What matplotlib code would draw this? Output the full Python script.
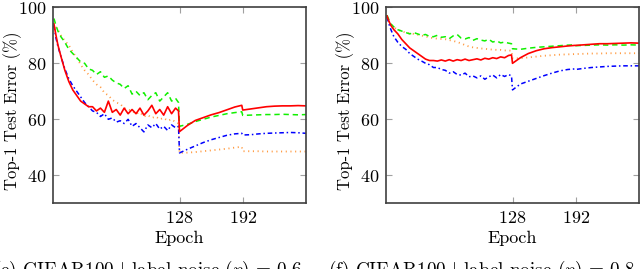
import matplotlib
matplotlib.use("Agg")
import matplotlib.pyplot as plt

plt.rcParams['font.family'] = 'serif'
plt.rcParams['font.serif'] = ['cmr10']
plt.rcParams['mathtext.fontset'] = 'cm'
plt.rcParams['axes.formatter.use_mathtext'] = True

epochs = [1, 3, 5, 8, 12, 16, 20, 24, 28, 32, 36, 40, 44, 48, 52, 56, 60, 64, 68, 72,
          76, 80, 84, 88, 92, 96, 100, 104, 108, 112, 116, 120, 124, 127,
          128, 136, 144, 152, 160, 168, 176, 184, 191, 192, 200, 208, 216, 224, 232, 240, 248, 256]

# (e) label noise 0.6
red_e = [94, 90, 86.5, 82.5, 77.5, 73.5, 70.5, 68.5, 66.5, 65.5, 64.5, 64.5, 63, 64, 62.5, 66.5, 62.5, 63.5, 61.5, 64,
         62, 63.5, 62, 64, 61.5, 63, 65, 62, 63.5, 61.5, 64.5, 62, 64, 63,
         55.6, 57.8, 59.6, 60.6, 61.6, 62.4, 63.4, 64.4, 65, 63.3, 63.7, 64.1, 64.5, 64.7, 64.8, 64.8, 64.9, 64.8]
green_e = [96, 93.5, 91.5, 89.5, 87.5, 85, 83.5, 82, 80.5, 80, 78, 77.5, 76, 77, 75, 75.5, 74, 73, 72.5, 71,
           72, 69, 70, 68.5, 69.5, 67, 68.5, 69.5, 66.5, 68, 69.5, 66.5, 67.5, 66,
           57.5, 58.2, 59.2, 60, 60.8, 61.4, 62, 62.4, 62.7, 61.4, 61.5, 61.6, 61.7, 61.7, 61.8, 61.7, 61.6, 61.7]
blue_e = [93.5, 89, 86, 82.5, 78, 74.5, 72, 70, 68, 66, 64.5, 63, 62.5, 61, 62, 60, 60.5, 59, 59.5, 58.5,
          60, 57.5, 58.5, 57, 55.5, 58, 57, 58.5, 56.5, 57.5, 56, 58, 57, 57.5,
          48, 49.3, 50.5, 51.7, 52.7, 53.5, 54.3, 54.8, 55, 54.4, 54.5, 54.8, 55, 55.1, 55.2, 55.3, 55.2, 55]
orange_e = [94.5, 93, 92, 90, 88, 86.5, 84, 82, 79.5, 77.5, 76, 74, 72.5, 71.5, 69.5, 68.5, 67, 66, 65.5, 64,
            63.5, 63, 62, 62.5, 61, 61.5, 60.5, 61, 60, 60.5, 59.5, 60, 59, 58.5,
            48, 48.1, 48.3, 48.6, 48.9, 49.2, 49.5, 49.9, 50.2, 48.6, 48.6, 48.6, 48.5, 48.5, 48.5, 48.5, 48.5, 48.5]

# (f) label noise 0.8
red_f = [96.9, 95, 93.5, 92, 90.5, 88.5, 87, 85.5, 84.5, 83.5, 82.5, 81.5, 81, 81, 80.8, 81.2, 80.8, 81.3, 80.8, 81.3,
         81, 81.5, 81, 81.3, 81.6, 81.2, 81.8, 81.5, 82, 81.7, 82.3, 82, 82.8, 83,
         80, 82, 83.5, 84.5, 85.2, 85.6, 85.9, 86.2, 86.4, 86.4, 86.6, 86.8, 87, 87, 87.1, 87.2, 87.3, 87.2]
green_f = [97.2, 95.5, 94, 93, 92, 91.5, 91, 90.5, 91, 90.5, 90, 90.3, 89.6, 89.5, 90, 89.3, 89.5, 88.8, 89.8, 90.3,
           89, 88.7, 89.2, 88.2, 88.8, 88.3, 88, 88.6, 87.6, 88, 87.3, 87.6, 87.2, 87,
           85.2, 85, 85.4, 85.7, 85.9, 86.1, 86.3, 86.5, 86.6, 86.3, 86.4, 86.5, 86.6, 86.5, 86.6, 86.5, 86.6, 86.5]
blue_f = [96.5, 94, 92, 89.5, 87.5, 86, 85, 83.5, 82.5, 81.5, 80.8, 80, 79.5, 78.5, 78.5, 77.8, 77.5, 76.5, 77, 76,
          75.8, 76.5, 75.2, 75.5, 74.8, 75.5, 74.3, 75.2, 75.8, 74.8, 76, 75.3, 76, 75.5,
          70.5, 72.6, 73.6, 74.6, 75.6, 76.5, 77.3, 77.8, 78, 77.8, 78.2, 78.5, 78.7, 78.9, 79, 79.1, 79.1, 79.1]
orange_f = [96.6, 95, 94, 92.8, 92, 91.4, 91, 90.7, 90.5, 90.2, 89.9, 89.6, 89.2, 89, 88.8, 88.7, 88.6, 88.3, 88, 87.6,
            87.1, 86.5, 86, 85.7, 85.5, 85.3, 85.2, 85, 84.9, 84.8, 84.8, 84.6, 84.6, 84.5,
            81.8, 81.8, 82.1, 82.4, 82.7, 82.9, 83.1, 83.2, 83.3, 83.3, 83.4, 83.5, 83.5, 83.6, 83.6, 83.6, 83.6, 83.6]

captions = [r"(e) CIFAR100 $|$ label noise $(\eta)$ = 0.6",
            r"(f) CIFAR100 $|$ label noise $(\eta)$ = 0.8"]

fig = plt.figure(figsize=(6.4, 2.69), dpi=100)
ax1 = fig.add_axes([53 / 640, 0.2442, 253 / 640, 0.7286])
ax2 = fig.add_axes([386 / 640, 0.2442, 253 / 640, 0.7286])

panels = [(ax1, red_e, green_e, blue_e, orange_e),
          (ax2, red_f, green_f, blue_f, orange_f)]

for ax, r, g, b, o in panels:
    ax.plot(epochs, o, color='#ff9a40', lw=1.3, linestyle=(0, (0.6, 2.0)))
    ax.plot(epochs, b, color='#0000ff', lw=1.1, linestyle=(0, (3, 1.8, 1, 1.8)))
    ax.plot(epochs, g, color='#11f000', lw=1.1, linestyle=(0, (3.5, 2.5)))
    ax.plot(epochs, r, color='#ff0000', lw=1.2)
    ax.set_xlim(0, 256)
    ax.set_ylim(30, 100)
    ax.set_xticks([128, 192])
    ax.set_yticks([40, 60, 80, 100])
    ax.tick_params(direction='in', length=4, width=0.8, color='#a0a0a0',
                   top=True, right=True, labelsize=13, pad=5)
    for s in ax.spines.values():
        s.set_color('#404040')
        s.set_linewidth(1.2)
    ax.set_xlabel('Epoch', fontsize=13, labelpad=3)
    ax.set_ylabel('Top-1 Test Error (%)', fontsize=12)
    ax.yaxis.label.set_va('center')
    ax.yaxis.set_label_coords(-0.16, 0.47)

fig.text(148 / 640, -0.025, captions[0], ha='center', va='baseline', fontsize=13.8)
fig.text(481 / 640, -0.025, captions[1], ha='center', va='baseline', fontsize=13.8)

fig.savefig('out.png', dpi=100)
